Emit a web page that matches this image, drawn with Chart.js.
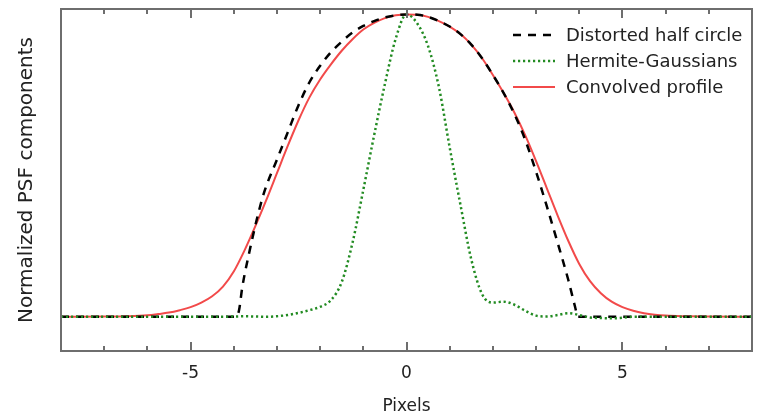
<!DOCTYPE html>
<html><head><meta charset="utf-8">
<script src="https://cdn.jsdelivr.net/npm/chart.js@4.4.1/dist/chart.umd.min.js"></script>
<style>html,body{margin:0;padding:0;background:#fff}#wrap{width:760px;height:417px}</style>
</head><body><div id="wrap"><canvas id="c" width="760" height="417"></canvas></div>
<script>
// ---- data ----
const halfCircleX = [-8,-6,-4.5,-3.95,-3.88,-3.8,-3.63,-3.47,-3.3,-3.0,-2.75,-2.5,-2.25,-2.0,-1.75,-1.5,-1.25,-1.0,-0.75,-0.5,-0.25,0,0.25,0.5,0.75,1.0,1.25,1.5,1.75,2.0,2.25,2.5,2.75,3.0,3.25,3.5,3.75,3.9,3.97,4.5,6,8];
const halfCircleY = [0,0,0,0,0.02,0.10,0.22,0.32,0.41,0.52,0.61,0.70,0.775,0.83,0.875,0.91,0.94,0.962,0.978,0.99,0.997,1.0,0.999,0.992,0.978,0.96,0.935,0.90,0.855,0.80,0.74,0.67,0.585,0.48,0.365,0.245,0.12,0.035,0,0,0,0];

const hermiteX = [-8,-7,-6,-5,-4.5,-4,-3.75,-3.5,-3.25,-3,-2.75,-2.5,-2.25,-2,-1.75,-1.5,-1.25,-1,-0.75,-0.5,-0.25,0,0.25,0.5,0.75,1.0,1.25,1.5,1.75,2.0,2.25,2.5,2.75,3.0,3.25,3.5,3.75,4.0,4.25,4.5,4.75,5.0,5.25,6,7,8];
const hermiteY = [0,0,0,0,0,0.001,0.002,0.001,0,0.002,0.006,0.013,0.022,0.033,0.055,0.115,0.245,0.42,0.60,0.77,0.92,1.0,0.97,0.895,0.76,0.56,0.37,0.19,0.075,0.047,0.05,0.04,0.02,0.004,0.001,0.006,0.012,0.006,-0.002,-0.004,-0.005,-0.003,0,0,0,0];

const convolvedX = [-8,-7,-6.5,-6,-5.75,-5.5,-5.25,-5,-4.75,-4.5,-4.25,-4,-3.75,-3.5,-3.25,-3,-2.75,-2.5,-2.25,-2,-1.75,-1.5,-1.25,-1,-0.75,-0.5,-0.25,0,0.25,0.5,0.75,1.0,1.25,1.5,1.75,2.0,2.25,2.5,2.75,3.0,3.25,3.5,3.75,4.0,4.25,4.5,4.75,5.0,5.25,5.5,5.75,6,6.5,7,8];
const convolvedY = [0,0.001,0.002,0.005,0.009,0.014,0.022,0.032,0.047,0.068,0.10,0.15,0.22,0.30,0.385,0.475,0.565,0.65,0.725,0.785,0.835,0.88,0.918,0.95,0.972,0.988,0.997,1.0,0.999,0.992,0.978,0.96,0.935,0.90,0.855,0.80,0.74,0.675,0.60,0.515,0.425,0.335,0.25,0.175,0.118,0.078,0.05,0.032,0.02,0.012,0.007,0.004,0.002,0.001,0];

const xTickLabels = {'-5':'-5','0':'0','5':'5'};
const seriesNames = ['Distorted half circle','Hermite-Gaussians','Convolved profile'];

const FONT = '"DejaVu Sans", sans-serif';
const pts = (xs, ys) => xs.map((x,i)=>({x, y: ys[i]}));

const frameAndTicks = {
  id:'frameAndTicks',
  afterDraw(chart){
    const {ctx, chartArea:a, scales:{x}} = chart;
    ctx.save();
    ctx.strokeStyle = '#6e6e6e';
    ctx.lineWidth = 2;
    ctx.strokeRect(a.left, a.top, a.right-a.left, a.bottom-a.top);
    for (let v=-8; v<=8; v++){
      const px = Math.round(x.getPixelForValue(v));
      const len = (v % 5 === 0) ? 9 : 5;
      ctx.beginPath();
      ctx.moveTo(px, a.bottom); ctx.lineTo(px, a.bottom-len);
      ctx.moveTo(px, a.top); ctx.lineTo(px, a.top+len);
      ctx.stroke();
    }
    // legend
    const ds = chart.data.datasets;
    const rows = [35, 61, 87];
    ctx.font = '18px ' + FONT;
    ctx.textBaseline = 'middle';
    ctx.fillStyle = '#222';
    [0,1,2].forEach(i=>{
      const d = ds[i];
      ctx.strokeStyle = d.borderColor;
      ctx.lineWidth = d.borderWidth;
      ctx.setLineDash(d.borderDash || []);
      ctx.beginPath(); ctx.moveTo(513, rows[i]); ctx.lineTo(555, rows[i]); ctx.stroke();
      ctx.setLineDash([]);
      ctx.fillText(d.label, 566, rows[i]+1);
    });
    ctx.restore();
  }
};

new Chart(document.getElementById('c'), {
  type:'line',
  data:{datasets:[
    {label:seriesNames[0], data:pts(halfCircleX, halfCircleY), borderColor:'#000000', borderWidth:2.5, borderDash:[8,7], pointRadius:0, fill:false, cubicInterpolationMode:'monotone', order:1},
    {label:seriesNames[1], data:pts(hermiteX, hermiteY), borderColor:'#228b22', borderWidth:2.5, borderDash:[2.2,2.8], pointRadius:0, fill:false, cubicInterpolationMode:'monotone', order:0},
    {label:seriesNames[2], data:pts(convolvedX, convolvedY), borderColor:'#f24a4a', borderWidth:2, pointRadius:0, fill:false, cubicInterpolationMode:'monotone', order:2}
  ]},
  options:{
    responsive:false, animation:false, devicePixelRatio:1,
    layout:{padding:{left:15, right:8, top:9, bottom:0}},
    plugins:{legend:{display:false}, tooltip:{enabled:false}},
    scales:{
      x:{type:'linear', min:-8, max:8,
        border:{display:false},
        grid:{display:false},
        afterFit:(s)=>{ s.height = 66; },
        ticks:{stepSize:1, autoSkip:false, maxRotation:0, padding:4, color:'#222', font:{family:FONT, size:17},
          callback:(v)=> xTickLabels[String(v)] !== undefined ? xTickLabels[String(v)] : ''},
        title:{display:true, text:'Pixels', color:'#222', font:{family:FONT, size:17}, padding:{top:0,bottom:0}}
      },
      y:{type:'linear', min:-0.113, max:1.018,
        border:{display:false},
        grid:{display:false},
        afterFit:(s)=>{ s.width = 46; },
        ticks:{display:false},
        title:{display:true, text:'Normalized PSF components', color:'#222', font:{family:FONT, size:20}, padding:{top:0,bottom:0}}
      }
    }
  },
  plugins:[frameAndTicks]
});
</script></body></html>
